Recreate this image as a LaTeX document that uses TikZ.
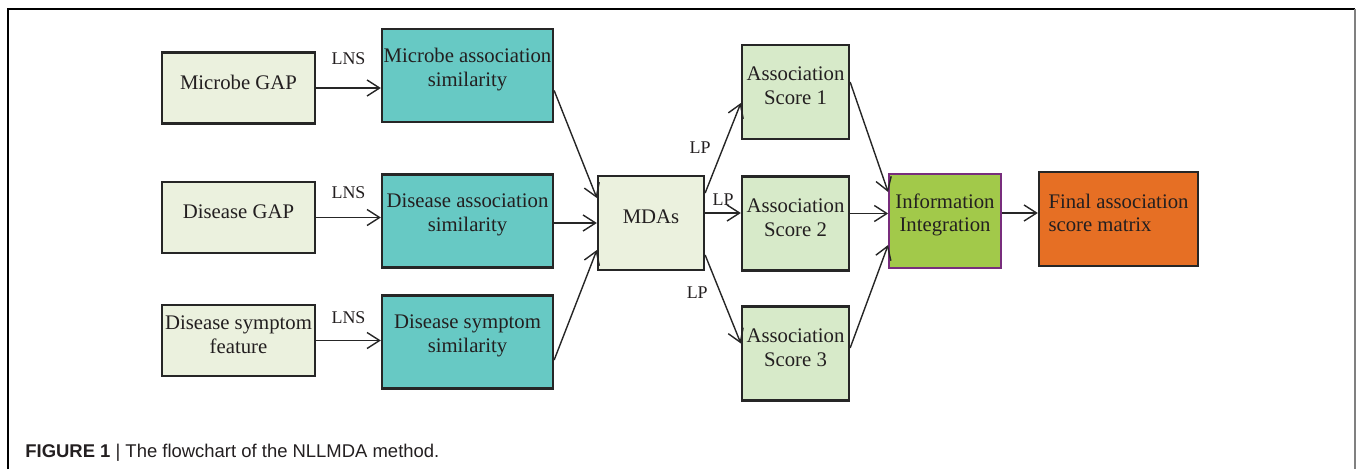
\documentclass[tikz,border=0pt]{standalone}
\usepackage{fontspec}
\setmainfont{Liberation Serif}
\newfontfamily\capfont{Liberation Sans}
\usetikzlibrary{arrows.meta,positioning}

\definecolor{inkgray}{RGB}{38,38,38}
\definecolor{paleolive}{RGB}{235,241,222}
\definecolor{teal}{RGB}{103,201,196}
\definecolor{scoregreen}{RGB}{215,234,201}
\definecolor{leafgreen}{RGB}{162,201,74}
\definecolor{plumline}{RGB}{120,45,125}
\definecolor{burntorange}{RGB}{230,111,36}
\definecolor{captext}{RGB}{35,31,32}

\tikzset{
  box/.style={draw=inkgray, line width=1.3pt, inner sep=0pt},
  inbox/.style={box, fill=paleolive, minimum width=3.06cm, minimum height=1.42cm},
  simbox/.style={box, fill=teal, minimum width=3.42cm, minimum height=1.86cm},
  midbox/.style={box, fill=paleolive, minimum width=2.12cm, minimum height=1.88cm},
  scorebox/.style={box, fill=scoregreen, minimum width=2.14cm, minimum height=1.88cm},
  intbox/.style={box, draw=plumline, line width=1pt, fill=leafgreen, minimum width=2.24cm, minimum height=1.88cm},
  finalbox/.style={box, fill=burntorange, minimum width=3.18cm, minimum height=1.88cm},
  boxtext/.style={align=center, yshift=1.2mm, text=captext, font=\fontsize{11.8pt}{13.4pt}\selectfont},
  flow/.style={draw=inkgray, line width=0.8pt, -{Straight Barb[length=2.5mm, width=3.2mm]}},
  edgetext/.style={text=captext, inner sep=1pt, font=\fontsize{10.2pt}{12pt}\selectfont}
}

\begin{document}
\begin{tikzpicture}
  \useasboundingbox (0,0) rectangle (27.16,-9.38);
  % frame
  \draw[line width=0.7pt] (0.16,-9.38) -- (0.16,-0.18) -- (27.10,-0.18);
  \draw[line width=0.9pt, gray] (27.10,-0.18) -- (27.10,-9.38);

  % inputs
  \node[inbox, label={[boxtext]center:Microbe GAP}] (mgap) at (4.77,-1.76) {};
  \node[inbox, label={[boxtext]center:Disease GAP}] (dgap) at (4.77,-4.35) {};
  \node[inbox, label={[boxtext]center:{Disease symptom\\feature}}] (dsf) at (4.77,-6.81) {};

  % similarities
  \node[simbox, label={[boxtext]center:{Microbe association\\similarity}}] (mas) at (9.35,-1.51) {};
  \node[simbox, label={[boxtext]center:{Disease association\\similarity}}] (das) at (9.35,-4.42) {};
  \node[simbox, label={[boxtext]center:{Disease symptom\\similarity}}] (dss) at (9.35,-6.84) {};

  \node[midbox, label={[boxtext]center:MDAs}] (mdas) at (13.02,-4.46) {};

  % scores
  \node[scorebox, label={[boxtext]center:{Association\\Score 1}}] (as1) at (15.91,-1.84) {};
  \node[scorebox, label={[boxtext]center:{Association\\Score 2}}] (as2) at (15.91,-4.47) {};
  \node[scorebox, label={[boxtext]center:{Association\\Score 3}}] (as3) at (15.91,-7.07) {};

  \node[intbox, label={[boxtext]center:{Information\\Integration}}] (ii) at (18.90,-4.42) {};
  \node[finalbox, label={[boxtext, align=left]center:{Final association\\score matrix}}] (fin) at (22.37,-4.38) {};

  % LNS
  \draw[flow] (mgap.east) -- (mgap.east -| mas.west) node[edgetext, midway, above=4.2mm] {LNS};
  \draw[flow] (dgap.east) -- (dgap.east -| das.west) node[edgetext, midway, above=3.2mm] {LNS};
  \draw[flow] (dsf.east) -- (dsf.east -| dss.west) node[edgetext, midway, above=2.8mm] {LNS};

  \draw[flow] ([yshift=-3mm]mas.east) -- ([yshift=5mm]mdas.west);
  \draw[flow] ([yshift=-0.04cm]das.east) -- ([yshift=-0.04cm]das.east -| mdas.west);
  \draw[flow] ([yshift=-3.6mm]dss.east) -- ([yshift=-5.4mm]mdas.west);

  % LP
  \draw[flow] ([yshift=6mm]mdas.east) -- ([yshift=-2.2mm]as1.west) node[edgetext, pos=0.5, left=2mm] {LP};
  \draw[flow] ([yshift=2mm]mdas.east) -- ([yshift=2mm]mdas.east -| as2.west) node[edgetext, midway, above=1mm] {LP};
  \draw[flow] ([yshift=-6.4mm]mdas.east) -- ([yshift=2mm]as3.west) node[edgetext, pos=0.42, left=2mm] {LP};

  \draw[flow] ([yshift=2mm]as1.east) -- ([yshift=5.8mm]ii.west);
  \draw[flow] ([yshift=2mm]as2.east) -- ([yshift=2mm]as2.east -| ii.west);
  \draw[flow] ([yshift=1.1mm]as3.east) -- ([yshift=-4.8mm]ii.west);
  \draw[flow] ([yshift=1.6mm]ii.east) -- ([yshift=1.6mm]ii.east -| fin.west);

  \node[anchor=base west, inner sep=0pt, text=captext, font=\capfont\fontsize{10.5pt}{12pt}\selectfont] (caption) at (0.50,-9.14)
    {\textbf{FIGURE 1} | The flowchart of the NLLMDA method.};
\end{tikzpicture}
\end{document}
